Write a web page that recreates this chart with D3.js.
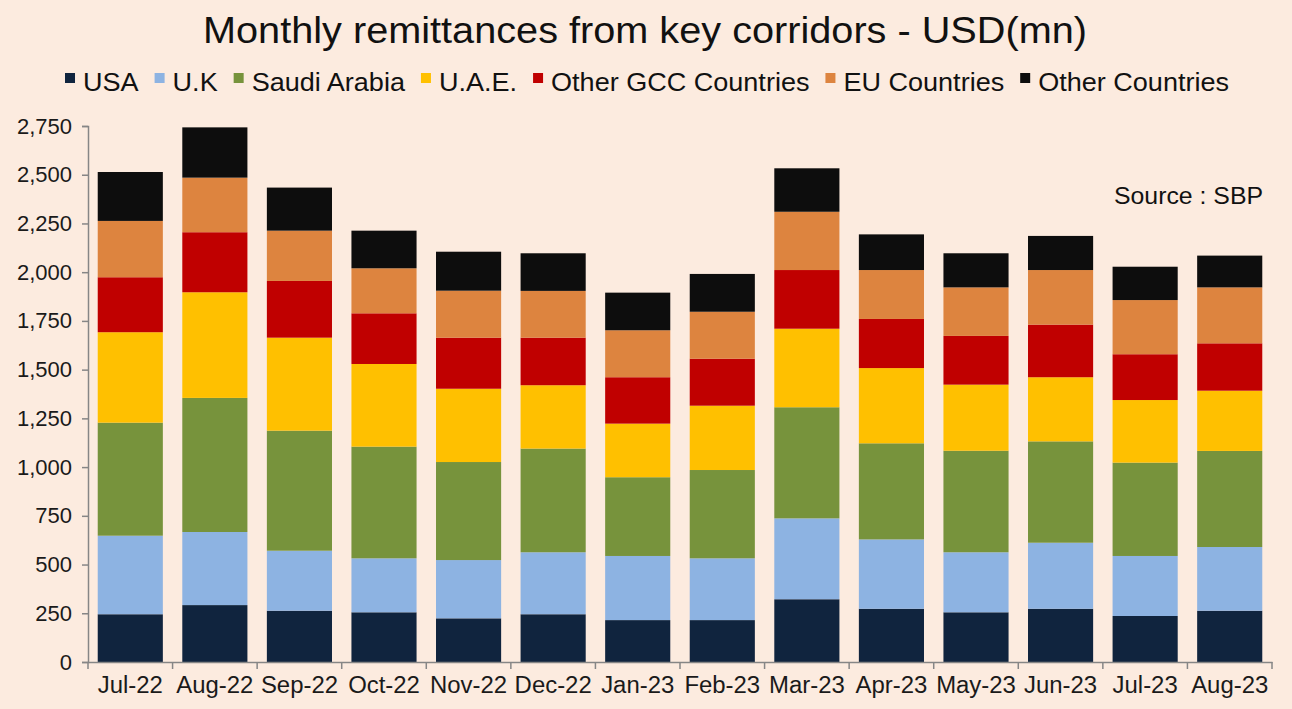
<!DOCTYPE html>
<html>
<head>
<meta charset="utf-8">
<script src="https://cdn.jsdelivr.net/npm/d3@7"></script>
<style>
  html, body { margin: 0; padding: 0; background: #fcebdf; }
  svg { display: block; font-family: "Liberation Sans", Arial, sans-serif; }
</style>
</head>
<body>
<svg id="chart" width="1292" height="709"></svg>
<script>
// months on the x axis
const months = ["Jul-22", "Aug-22", "Sep-22", "Oct-22", "Nov-22", "Dec-22", "Jan-23",
                "Feb-23", "Mar-23", "Apr-23", "May-23", "Jun-23", "Jul-23", "Aug-23"];

// USD mn
const usa        = [245, 292, 263, 255, 224, 245, 215, 215, 322, 273, 255, 273, 236, 263];
const uk         = [403, 375, 308, 277, 299, 318, 329, 317, 415, 356, 308, 339, 308, 327];
const saudi      = [580, 688, 616, 573, 503, 532, 404, 453, 570, 493, 521, 520, 479, 493];
const uae        = [464, 542, 477, 424, 376, 325, 275, 330, 403, 386, 339, 329, 321, 309];
const otherGcc   = [282, 308, 291, 260, 262, 244, 238, 241, 301, 252, 250, 270, 235, 243];
const euCountries= [289, 280, 258, 231, 241, 240, 241, 241, 299, 251, 249, 280, 278, 287];
const otherCtry  = [251, 258, 221, 193, 200, 193, 193, 194, 223, 183, 175, 175, 171, 163];

const seriesNames  = ["USA", "U.K", "Saudi Arabia", "U.A.E.", "Other GCC Countries", "EU Countries", "Other Countries"];
const seriesValues = [usa, uk, saudi, uae, otherGcc, euCountries, otherCtry];
const seriesColors = ["#10243e", "#8db3e2", "#77933c", "#ffc000", "#c00000", "#dd843f", "#0d0d0d"];

const yTicks = d3.range(0, 2751, 250);

const svg = d3.select("#chart");
const width = 1292, height = 709;
const margin = {top: 126, right: 20, bottom: 47, left: 88};

// the original text is a bit wider than Liberation Sans
const stretch = 1.04;

// build rows for the stack
const rows = months.map((m, i) => {
  const r = {month: m};
  seriesNames.forEach((s, j) => r[s] = seriesValues[j][i]);
  return r;
});
const stacked = d3.stack().keys(seriesNames)(rows);

const x = d3.scaleBand()
  .domain(months)
  .range([margin.left, width - margin.right])
  .paddingInner(0.23)
  .paddingOuter(0.115);

const y = d3.scaleLinear()
  .domain([0, 2750])
  .range([height - margin.bottom, margin.top]);

const color = d3.scaleOrdinal().domain(seriesNames).range(seriesColors);

// title
svg.append("text")
  .attr("x", 645).attr("y", 43)
  .attr("text-anchor", "middle")
  .attr("font-size", 36)
  .attr("fill", "#111")
  .attr("textLength", 884)
  .attr("lengthAdjust", "spacingAndGlyphs")
  .text("Monthly remittances from key corridors - USD(mn)");

// legend
const legend = svg.append("g");
let lx = 0;
seriesNames.forEach((s, j) => {
  const g = legend.append("g").attr("transform", `translate(${lx},0)`);
  g.append("rect").attr("x", 0).attr("y", -9).attr("width", 10).attr("height", 10).attr("fill", seriesColors[j]);
  const t = g.append("text")
    .attr("transform", `translate(18,0) scale(${stretch},1)`)
    .attr("dy", "0.35em")
    .attr("font-size", 26).attr("fill", "#111").text(s);
  lx += 18 + t.node().getComputedTextLength() * stretch + 16;
});
lx -= 16;
legend.attr("transform", `translate(${647 - lx / 2},82)`);

// bars
svg.append("g")
  .selectAll("g")
  .data(stacked)
  .join("g")
    .attr("fill", d => color(d.key))
  .selectAll("rect")
  .data(d => d)
  .join("rect")
    .attr("x", d => x(d.data.month))
    .attr("y", d => y(d[1]))
    .attr("height", d => y(d[0]) - y(d[1]))
    .attr("width", x.bandwidth());

// y axis
const yAxis = svg.append("g")
  .attr("transform", `translate(${margin.left},0)`)
  .call(d3.axisLeft(y).tickValues(yTicks).tickFormat(d3.format(",")).tickSizeOuter(0).tickSize(6).tickPadding(10));
yAxis.selectAll("path, line").attr("stroke", "#868686").attr("stroke-width", 1.5);
yAxis.selectAll("text").attr("font-size", 22).attr("fill", "#1a1a1a").attr("font-family", "Liberation Sans, Arial, sans-serif");

// x axis
const xAxis = svg.append("g")
  .attr("transform", `translate(0,${height - margin.bottom})`)
  .call(d3.axisBottom(x).tickSize(0).tickSizeOuter(0).tickPadding(15));
xAxis.select("path").attr("stroke", "#868686").attr("stroke-width", 1.5);
xAxis.selectAll("text")
  .attr("font-size", 23).attr("fill", "#1a1a1a").attr("font-family", "Liberation Sans, Arial, sans-serif")
  .attr("transform", "scale(1.04,1)");

// category boundary ticks
const step = x.step();
const x0 = x.range()[0];
xAxis.selectAll("line.sep")
  .data(d3.range(months.length + 1))
  .join("line")
    .attr("class", "sep")
    .attr("x1", i => x0 + i * step).attr("x2", i => x0 + i * step)
    .attr("y1", 0).attr("y2", 7)
    .attr("stroke", "#868686").attr("stroke-width", 1.5);

// source note
svg.append("text")
  .attr("transform", "translate(1263,204) scale(1.08,1)")
  .attr("text-anchor", "end")
  .attr("font-size", 23)
  .attr("fill", "#111")
  .text("Source : SBP");
</script>
</body>
</html>
